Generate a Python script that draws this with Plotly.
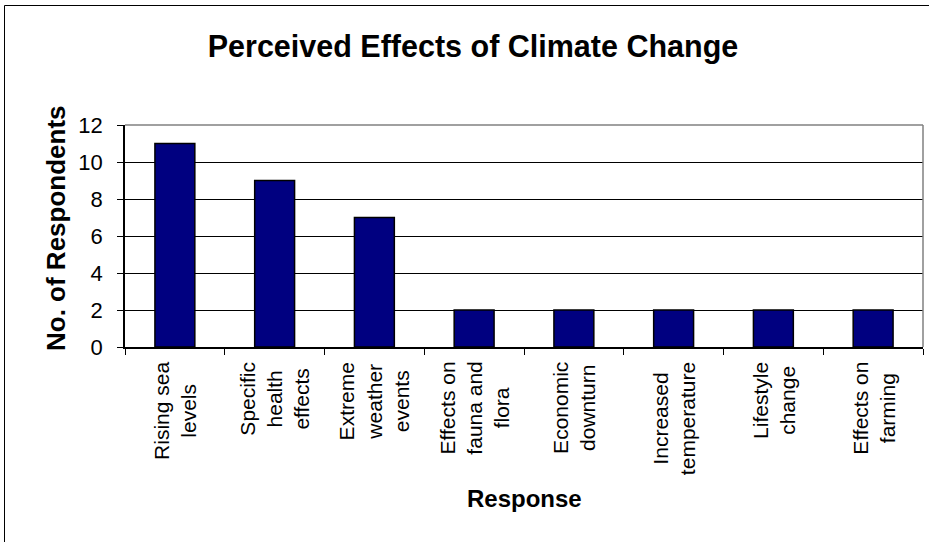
import plotly.graph_objects as go

# Survey responses: perceived effects of climate change
categories = [
    "Rising sea levels",
    "Specific health effects",
    "Extreme weather events",
    "Effects on fauna and flora",
    "Economic downturn",
    "Increased temperature",
    "Lifestyle change",
    "Effects on farming",
]
tick_text = [
    "Rising sea<br>levels",
    "Specific<br>health<br>effects",
    "Extreme<br>weather<br>events",
    "Effects on<br>fauna and<br>flora",
    "Economic<br>downturn",
    "Increased<br>temperature",
    "Lifestyle<br>change",
    "Effects on<br>farming",
]
respondents = [11, 9, 7, 2, 2, 2, 2, 2]
y_ticks = [0, 2, 4, 6, 8, 10, 12]

W, H = 929, 542
L, R, T, B = 125, 6, 125, 195
pw, ph = W - L - R, H - T - B


def px_x(p):
    return (p - L) / pw


def px_y(p):
    return (H - B - p) / ph


FONT = "Liberation Sans, Arial, sans-serif"

fig = go.Figure(
    go.Bar(
        x=categories,
        y=respondents,
        marker=dict(color="#000080", line=dict(color="#000000", width=1.5)),
        hoverinfo="x+y",
    )
)

annotations = []
# rotated, centred multi-line category labels
for cat, txt in zip(categories, tick_text):
    annotations.append(dict(
        x=cat, xref="x", y=px_y(360), yref="paper",
        text=txt, textangle=-90, showarrow=False,
        xanchor="center", yanchor="top", align="center",
        font=dict(family=FONT, size=21, color="#000000"),
    ))
# axis titles
annotations.append(dict(
    x=0.5, xref="paper", y=px_y(498), yref="paper",
    text="<b>Response</b>", showarrow=False,
    xanchor="center", yanchor="middle",
    font=dict(family=FONT, size=24, color="#000000"),
))
annotations.append(dict(
    x=px_x(56), xref="paper", y=px_y(228), yref="paper",
    text="<b>No. of Respondents</b>", textangle=-90, showarrow=False,
    xanchor="center", yanchor="middle",
    font=dict(family=FONT, size=26, color="#000000"),
))

shapes = [
    # outer chart frame
    dict(type="rect", xref="paper", yref="paper",
         x0=px_x(4.5), x1=px_x(960), y0=px_y(600), y1=px_y(5.5),
         line=dict(color="#000000", width=1), layer="below"),
    # plot-area border (top and right)
    dict(type="line", xref="paper", yref="paper", x0=0, x1=1, y0=1, y1=1,
         line=dict(color="#808080", width=1.5), layer="above"),
    dict(type="line", xref="paper", yref="paper", x0=1, x1=1, y0=0, y1=1,
         line=dict(color="#808080", width=1.5), layer="above"),
]

fig.update_layout(
    width=W, height=H,
    margin=dict(l=L, r=R, t=T, b=B, autoexpand=False),
    paper_bgcolor="#ffffff", plot_bgcolor="#ffffff",
    bargap=0.6,
    showlegend=False,
    title=dict(
        text="<b>Perceived Effects of Climate Change</b>",
        x=473 / W, xref="container", xanchor="center",
        y=1 - 46 / H, yref="container", yanchor="middle",
        font=dict(family=FONT, size=30.5, color="#000000"),
    ),
    xaxis=dict(
        showticklabels=False, tickson="boundaries", ticks="outside",
        ticklen=6, tickcolor="#000000", tickwidth=1,
        showline=True, linecolor="#000000", linewidth=1.5,
        showgrid=False, zeroline=False,
    ),
    yaxis=dict(
        range=[0, 12], tickvals=y_ticks, ticks="outside", ticklen=6,
        tickcolor="#000000", tickwidth=1,
        showline=True, linecolor="#000000", linewidth=1.5,
        showgrid=True, gridcolor="#000000", gridwidth=1,
        zeroline=False, ticklabelstandoff=10,
        tickfont=dict(family=FONT, size=22, color="#000000"),
    ),
    annotations=annotations,
    shapes=shapes,
)

fig.write_html("out.html")
